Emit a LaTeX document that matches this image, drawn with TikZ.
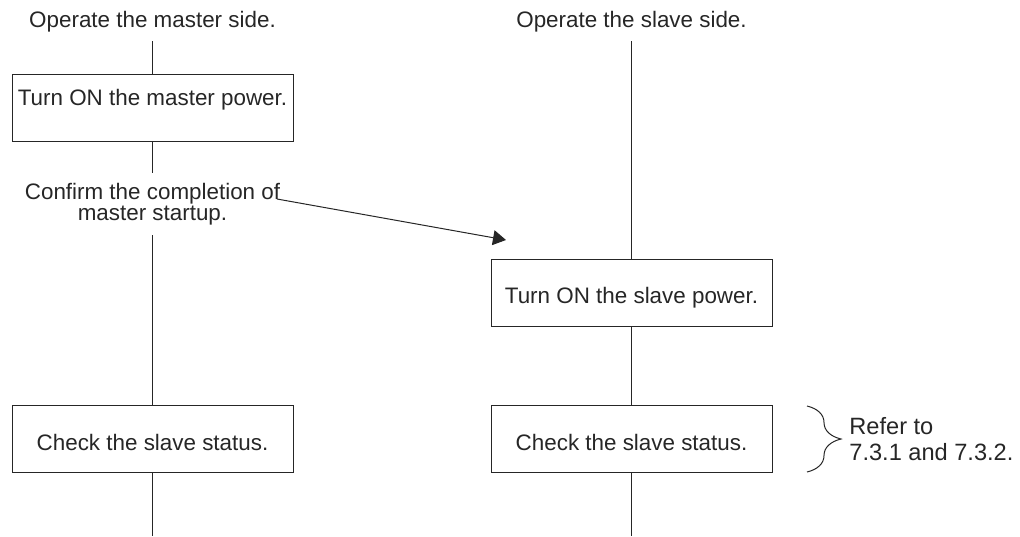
\documentclass[tikz,border=0pt]{standalone}
\usepackage{fontspec}
\setmainfont{Liberation Sans}
\usepackage{tikz}
\usetikzlibrary{arrows.meta,decorations.pathreplacing,positioning}
\tikzset{
  caja/.style={draw=black!85,line width=0.5pt,minimum width=140.5pt,minimum height=33.5pt,
    inner sep=0pt,text height=11pt,text depth=0pt,text=black!85,font=\fontsize{11.2}{13}\selectfont},
  titulo/.style={inner xsep=0pt,inner ysep=4.2pt,text=black!85,font=\fontsize{11.2}{13}\selectfont},
  linea/.style={draw=black!85,line width=0.5pt},
  flecha/.style={linea,-{Triangle[length=6.5pt,width=7.5pt]}},
  llave/.style={linea,decorate,decoration={brace,amplitude=17pt}}
}
\begin{document}
\begin{tikzpicture}[x=0.5pt,y=-0.5pt]
\useasboundingbox (0,0) rectangle (1020,536);
% lado maestro
\node[titulo] (mtitulo) at (152.5,22) {Operate the master side.};
\node[caja,text height=8pt,text depth=10pt] (mpower) at (152.5,107.5) {Turn ON the master power.};
\node[titulo,align=center,inner ysep=5pt,font=\fontsize{11.2}{10.5}\selectfont] (mconfirm) at (152.5,204) {Confirm the completion of\\master startup.};
\node[caja] (mcheck) at (152.5,439) {Check the slave status.};
\coordinate (mfin) at (152.5,536);
\draw[linea] (mtitulo)--(mpower); \draw[linea] (mpower)--(mconfirm);
\draw[linea] (mconfirm)--(mcheck); \draw[linea] (mcheck)--(mfin);
% aviso al lado esclavo
\coordinate (flechaa) at (277,199); \coordinate (flechab) at (506,240);
\draw[flecha] (flechaa)--(flechab);
% lado esclavo
\node[titulo] (stitulo) at (631.5,22) {Operate the slave side.};
\node[caja] (spower) at (631.5,292.5) {Turn ON the slave power.};
\node[caja] (scheck) at (631.5,439) {Check the slave status.};
\coordinate (sfin) at (631.5,536);
\draw[linea] (stitulo)--(spower); \draw[linea] (spower)--(scheck);
\draw[linea] (scheck)--(sfin);
% referencia
\coordinate (llavea) at (807,406); \coordinate (llaveb) at (807,472);
\draw[llave] (llavea)--(llaveb);
\node[anchor=west,align=left,inner sep=0pt,text=black!85,font=\fontsize{11.8}{12.6}\selectfont] (refer) at (849,439) {Refer to\\7.3.1 and 7.3.2.};
\end{tikzpicture}
\end{document}
